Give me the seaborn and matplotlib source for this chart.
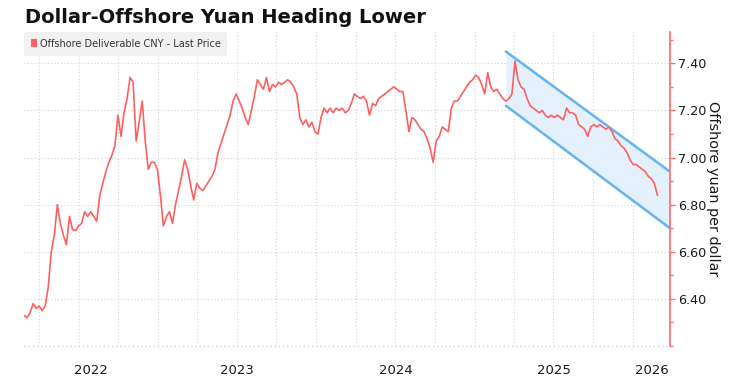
import numpy as np
import pandas as pd
import matplotlib
matplotlib.use("Agg")
import matplotlib.pyplot as plt
from matplotlib.patches import Patch
import seaborn as sns

# ---------------- data (weekly closes) ----------------
start_date = "2022-02-25"
cny_2022 = [6.33, 6.32, 6.34, 6.38, 6.36, 6.37, 6.35, 6.37, 6.45, 6.60,
            6.67, 6.80, 6.72, 6.67, 6.63, 6.75, 6.695, 6.69, 6.71, 6.72,
            6.77, 6.75, 6.77, 6.75, 6.73, 6.84, 6.89, 6.94, 6.98, 7.01,
            7.05, 7.18, 7.09, 7.19, 7.25, 7.34, 7.32, 7.07, 7.15, 7.24,
            7.07, 6.95, 6.98, 6.98, 6.95]
cny_2023 = [6.84, 6.71, 6.75, 6.77, 6.72, 6.80, 6.86, 6.92, 6.99, 6.95,
            6.88, 6.82, 6.89, 6.87, 6.86, 6.88, 6.90, 6.92, 6.95, 7.02,
            7.06, 7.10, 7.14, 7.18, 7.24, 7.27, 7.24, 7.21, 7.17, 7.14,
            7.20, 7.26, 7.33, 7.31, 7.29, 7.34, 7.28, 7.31, 7.30, 7.32,
            7.31, 7.32, 7.33, 7.32, 7.30, 7.27, 7.17, 7.14, 7.16, 7.13,
            7.15, 7.11]
cny_2024 = [7.10, 7.17, 7.21, 7.19, 7.21, 7.19, 7.21, 7.20, 7.21, 7.19,
            7.20, 7.23, 7.27, 7.26, 7.25, 7.26, 7.24, 7.18, 7.23, 7.22,
            7.25, 7.26, 7.27, 7.28, 7.29, 7.30, 7.29, 7.28, 7.28, 7.20,
            7.11, 7.17, 7.16, 7.14, 7.12, 7.11, 7.08, 7.04, 6.98, 7.07,
            7.09, 7.13, 7.12, 7.11, 7.21, 7.24, 7.24, 7.26, 7.28, 7.30,
            7.32, 7.33]
cny_2025 = [7.35, 7.34, 7.31, 7.27, 7.36, 7.30, 7.28, 7.29, 7.27, 7.25,
            7.24, 7.25, 7.27, 7.41, 7.33, 7.30, 7.29, 7.25, 7.22, 7.21,
            7.20, 7.19, 7.20, 7.18, 7.17, 7.18, 7.17, 7.18, 7.17, 7.16,
            7.21, 7.19, 7.19, 7.18, 7.14, 7.13, 7.12, 7.09, 7.13, 7.14,
            7.13, 7.14, 7.13, 7.12, 7.13, 7.11, 7.08, 7.07, 7.05, 7.04,
            7.02, 6.99]
cny_2026 = [6.97, 6.97, 6.96, 6.95, 6.94, 6.92, 6.91, 6.89, 6.84]

# downward channel drawn on the chart
channel_dates = ["2025-03-14", "2026-03-28"]
channel_upper = [7.45, 6.94]
channel_lower = [7.22, 6.70]

y_ticks = [6.40, 6.60, 6.80, 7.00, 7.20, 7.40]
year_labels = ["2022", "2023", "2024", "2025", "2026"]

title = "Dollar-Offshore Yuan Heading Lower"
series_name = "Offshore Deliverable CNY - Last Price"
y_label = "Offshore yuan per dollar"

# ---------------- build frame ----------------
values = cny_2022 + cny_2023 + cny_2024 + cny_2025 + cny_2026
dates = pd.date_range(start_date, periods=len(values), freq="7D")
df = pd.DataFrame({"date": dates, "cny": values})
ch = pd.DataFrame({"date": pd.to_datetime(channel_dates),
                   "upper": channel_upper, "lower": channel_lower})

# ---------------- style ----------------
sns.set_style("white")
plt.rcParams["font.family"] = ["DejaVu Sans"]

RED = "#ff5f5f"
AXRED = "#ff6b6b"
BLUE = "#63b3f4"
FILL = "#e4f1fd"
GRID = "#d2d2d2"

fig = plt.figure(figsize=(7.54, 3.80), dpi=100)
ax = fig.add_axes([24 / 754, 34 / 380, (670 - 24) / 754, (347 - 33) / 380])

x0 = pd.Timestamp("2022-02-25")
x1 = pd.Timestamp("2026-03-28")

# channel
ax.fill_between(ch["date"], ch["lower"], ch["upper"], color=FILL, zorder=1, lw=0)
sns.lineplot(data=ch, x="date", y="upper", color=BLUE, lw=1.8, ax=ax, zorder=2)
sns.lineplot(data=ch, x="date", y="lower", color=BLUE, lw=1.8, ax=ax, zorder=2)

# main series
sns.lineplot(data=df, x="date", y="cny", color=RED, lw=1.2, ax=ax, zorder=3)

ax.set_xlim(x0, x1)
ax.set_ylim(6.20, 7.533)

# y axis on right
ax.yaxis.tick_right()
ax.yaxis.set_label_position("right")
ax.set_yticks(y_ticks)
ax.set_yticklabels([f"{t:.2f}" for t in y_ticks])
ax.set_yticks(np.arange(6.2, 7.55, 0.1), minor=True)
ax.tick_params(axis="y", which="major", colors=AXRED, labelcolor="#1a1a1a",
               length=3.5, width=1, labelsize=9.2, pad=2)
ax.tick_params(axis="y", which="minor", colors=AXRED, length=2.5, width=1)
ax.set_ylabel(y_label, rotation=270, labelpad=10, fontsize=10.4, color="#1a1a1a")

# x axis: quarter gridlines, year labels centred on the visible part of each year
quarters = pd.date_range("2022-04-01", "2026-01-01", freq="QS")
label_pos = []
for y in year_labels:
    a = max(pd.Timestamp(f"{y}-01-01"), x0)
    b = min(pd.Timestamp(f"{int(y) + 1}-01-01"), x1)
    label_pos.append(a + (b - a) / 2)
ax.set_xticks(label_pos)
ax.set_xticklabels(year_labels)
ax.tick_params(axis="x", which="major", length=0, labelsize=9.5, pad=13,
               labelcolor="#1a1a1a")

ax.grid(False)
for q in quarters:
    ax.axvline(q, color=GRID, ls=(0, (1, 2)), lw=0.8, zorder=0)
for t in y_ticks:
    ax.axhline(t, color=GRID, ls=(0, (1, 2)), lw=0.8, zorder=0)
ax.axhline(6.20, color=GRID, ls=(0, (1, 2)), lw=1.0, zorder=0, clip_on=False)

for s in ["top", "left", "bottom"]:
    ax.spines[s].set_visible(False)
ax.spines["right"].set_color(AXRED)
ax.spines["right"].set_linewidth(1.2)
ax.set_xlabel("")

# legend
leg = ax.legend(handles=[Patch(facecolor=RED, edgecolor="none")],
                labels=[series_name], loc="upper left",
                bbox_to_anchor=(0.0, 1.0), borderaxespad=0.0,
                frameon=True, fontsize=7.0, handlelength=0.6, handleheight=0.9,
                handletextpad=0.3, borderpad=0.7, labelcolor="#333333")
leg.get_frame().set_facecolor("#f1f1f1")
leg.get_frame().set_edgecolor("none")
leg.get_frame().set_alpha(1)

fig.text(25 / 754, 1 - 17.5 / 380, title, fontsize=14.0, fontweight="bold",
         va="center", ha="left", color="#111111")

fig.savefig("out.png", dpi=100)
